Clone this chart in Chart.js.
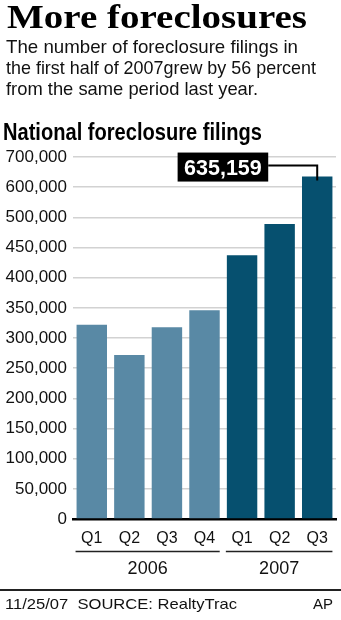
<!DOCTYPE html>
<html>
<head>
<meta charset="utf-8">
<script src="https://cdn.jsdelivr.net/npm/chart.js@4"></script>
<style>
html,body{margin:0;padding:0;background:#fff;width:341px;height:620px;overflow:hidden;}
#wrap{position:relative;width:341px;height:620px;}
#c{position:absolute;left:0;top:0;}
.t{position:absolute;white-space:nowrap;color:#111;transform-origin:0 0;line-height:1;}
#title{left:7px;top:-1px;font:bold 33px "Liberation Serif","DejaVu Serif",serif;color:#000;}
.sub{left:6px;font:19px "Liberation Sans",sans-serif;}
#ctitle{left:3px;top:119px;font:bold 23px "Liberation Sans",sans-serif;color:#000;}
#rule{position:absolute;left:0;top:589px;width:341px;height:1.5px;background:#222;}
.foot{top:595px;font:15px "Liberation Sans",sans-serif;}
#src{left:5px;}
#ap{right:8px;}
</style>
</head>
<body>
<div id="wrap">
  <canvas id="c" width="341" height="620"></canvas>
  <div class="t" id="title" data-w="300">More foreclosures</div>
  <div class="t sub" style="top:36px" data-w="292">The number of foreclosure filings in</div>
  <div class="t sub" style="top:57px" data-w="310">the first half of 2007grew by 56 percent</div>
  <div class="t sub" style="top:78px" data-w="252">from the same period last year.</div>
  <div class="t" id="ctitle" data-w="259">National foreclosure filings</div>
  <div id="rule"></div>
  <div class="t foot" id="src" data-w="232">11/25/07&nbsp;&nbsp;SOURCE: RealtyTrac</div>
  <div class="t foot" id="ap">AP</div>
</div>
<script>
// ---- data ----
const categories = ['Q1', 'Q2', 'Q3', 'Q4', 'Q1', 'Q2', 'Q3'];
const years = ['2006', '2006', '2006', '2006', '2007', '2007', '2007'];
const filings = [322000, 272000, 318000, 346000, 437000, 489000, 635159];
const tickValues = [0, 50000, 100000, 150000, 200000, 250000, 300000, 350000, 400000, 450000, 500000, 600000, 700000];
const tickLabels = ['0', '50,000', '100,000', '150,000', '200,000', '250,000', '300,000', '350,000', '400,000', '450,000', '500,000', '600,000', '700,000'];
const highlightLabel = '635,159';

// ---- fit headline texts to measured widths ----
document.querySelectorAll('[data-w]').forEach(el => {
  const w = el.getBoundingClientRect().width;
  const target = parseFloat(el.dataset.w);
  if (w > 0) el.style.transform = 'scaleX(' + (target / w) + ')';
});

// the printed axis is evenly spaced between uneven tick values
function toAxisPos(v) {
  for (let i = 0; i < tickValues.length - 1; i++) {
    if (v <= tickValues[i + 1]) {
      return i + (v - tickValues[i]) / (tickValues[i + 1] - tickValues[i]);
    }
  }
  return tickValues.length - 1;
}

const LIGHT = '#5989a5';
const DARK = '#06506f';
const SANS = '"Liberation Sans",sans-serif';

const groupPlugin = {
  id: 'groups',
  afterDraw(chart) {
    const ctx = chart.ctx;
    const meta = chart.getDatasetMeta(0);
    const bottom = chart.chartArea.bottom;
    // year groups
    const groups = [];
    years.forEach((y, i) => {
      const g = groups[groups.length - 1];
      if (g && g.year === y) g.last = i; else groups.push({year: y, first: i, last: i});
    });
    ctx.save();
    groups.forEach(g => {
      const a = meta.data[g.first], b = meta.data[g.last];
      const left = a.x - a.width / 2 - 1;
      const right = b.x + b.width / 2;
      ctx.strokeStyle = '#222';
      ctx.lineWidth = 1.5;
      ctx.beginPath();
      ctx.moveTo(left, bottom + 32.5);
      ctx.lineTo(right, bottom + 32.5);
      ctx.stroke();
      ctx.fillStyle = '#111';
      ctx.font = '18px ' + SANS;
      ctx.textAlign = 'center';
      ctx.textBaseline = 'alphabetic';
      ctx.fillText(g.year, (left + right) / 2, bottom + 55);
    });
    // highlight label on the highest bar
    const hi = meta.data[filings.length - 1];
    const boxW = 90.6, boxH = 29;
    const boxRight = hi.x - 49;
    const boxTop = hi.y - 24;
    const lineY = boxTop + 13;
    ctx.strokeStyle = '#000';
    ctx.lineWidth = 2;
    ctx.beginPath();
    ctx.moveTo(boxRight, lineY);
    ctx.lineTo(hi.x, lineY);
    ctx.lineTo(hi.x, hi.y + 4);
    ctx.stroke();
    ctx.fillStyle = '#000';
    ctx.fillRect(boxRight - boxW, boxTop, boxW, boxH);
    ctx.fillStyle = '#fff';
    ctx.font = 'bold 21.5px ' + SANS;
    ctx.textAlign = 'center';
    ctx.textBaseline = 'alphabetic';
    ctx.fillText(highlightLabel, boxRight - boxW / 2, boxTop + 22.5);
    ctx.restore();
  }
};

new Chart(document.getElementById('c'), {
  type: 'bar',
  data: {
    labels: categories,
    datasets: [{
      data: filings.map(toAxisPos),
      backgroundColor: years.map(y => y === '2006' ? LIGHT : DARK),
      borderWidth: 0,
      barPercentage: 0.81,
      categoryPercentage: 1
    }]
  },
  options: {
    responsive: false,
    animation: false,
    layout: {padding: {top: 157, right: 5, bottom: 71, left: 0}},
    plugins: {legend: {display: false}, tooltip: {enabled: false}},
    scales: {
      x: {
        z: 1,
        grid: {display: false, drawTicks: false},
        border: {display: true, color: '#000', width: 2.5},
        ticks: {color: '#111', font: {family: SANS, size: 16}, padding: 10, maxRotation: 0},
        afterFit(s) { s.height = 30; }
      },
      y: {
        min: 0,
        max: tickValues.length - 1,
        grid: {color: '#d2d2d2', lineWidth: 1.5, drawTicks: false},
        border: {display: false},
        ticks: {
          stepSize: 1,
          autoSkip: false,
          color: '#111',
          font: {family: SANS, size: 17},
          padding: 6,
          callback: v => tickLabels[v]
        },
        afterFit(s) { s.width = 73; }
      }
    }
  },
  plugins: [groupPlugin]
});
</script>
</body>
</html>
